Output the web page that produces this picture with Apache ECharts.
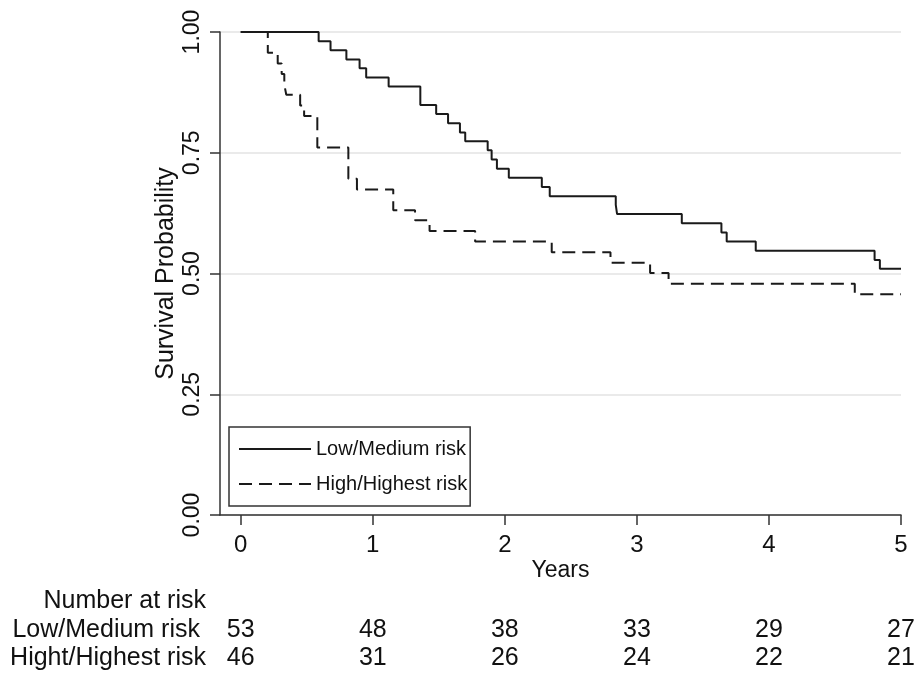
<!DOCTYPE html>
<html>
<head>
<meta charset="utf-8">
<script src="https://cdn.jsdelivr.net/npm/echarts@6/dist/echarts.min.js"></script>
<style>
html,body{margin:0;padding:0;background:#fff;}
#chart{width:916px;height:675px;}
</style>
</head>
<body>
<div id="chart"></div>
<script>
// ---- data ----
const seriesNames = ['Low/Medium risk', 'High/Highest risk'];
const riskRowLabels = ['Low/Medium risk', 'Hight/Highest risk'];
const riskHeader = 'Number at risk';
const yearTicks = [0, 1, 2, 3, 4, 5];

// Kaplan-Meier steps: time (years) and survival after the step
const timesLow = [0, 0.59, 0.68, 0.80, 0.90, 0.95, 1.12, 1.36, 1.48, 1.57, 1.66, 1.70, 1.87, 1.90, 1.94, 2.03, 2.28, 2.34, 2.84, 2.85, 3.34, 3.64, 3.68, 3.90, 4.80, 4.84, 5.0];
const survLow  = [1, 0.981, 0.962, 0.943, 0.925, 0.906, 0.887, 0.849, 0.830, 0.811, 0.792, 0.774, 0.755, 0.736, 0.717, 0.698, 0.679, 0.660, 0.642, 0.623, 0.604, 0.585, 0.566, 0.547, 0.528, 0.510, 0.510];

const timesHigh = [0, 0.205, 0.28, 0.31, 0.33, 0.345, 0.45, 0.48, 0.58, 0.815, 0.88, 1.155, 1.32, 1.43, 1.775, 2.355, 2.80, 3.10, 3.24, 4.65, 5.0];
const survHigh  = [1, 0.957, 0.935, 0.913, 0.891, 0.870, 0.848, 0.826, 0.761, 0.696, 0.674, 0.631, 0.610, 0.588, 0.566, 0.544, 0.522, 0.501, 0.479, 0.457, 0.457];

const atRiskLow  = [53, 48, 38, 33, 29, 27];
const atRiskHigh = [46, 31, 26, 24, 22, 21];

// ---- chart ----
const FONT = '"Liberation Sans", Arial, sans-serif';
const TXT = '#111';
const X_MIN = -0.157, X_MAX = 5;
const zip = (a, b) => a.map((v, i) => [v, b[i]]);

const chart = echarts.init(document.getElementById('chart'), null, {renderer: 'canvas'});

function riskAxis(offset, name, gap, values) {
  return {
    type: 'value', gridIndex: 0, position: 'bottom', offset: offset,
    min: X_MIN, max: X_MAX,
    name: name, nameLocation: 'start', nameGap: gap, nameMoveOverlap: false,
    nameTextStyle: {fontFamily: FONT, fontSize: 25, color: TXT, verticalAlign: 'middle', align: 'right'},
    axisLine: {show: false, onZero: false}, axisTick: {show: false}, splitLine: {show: false},
    axisLabel: {
      show: true, customValues: yearTicks, margin: 0, verticalAlign: 'middle',
      fontFamily: FONT, fontSize: 25, color: TXT,
      formatter: v => {
        if (!values) return '';
        const i = yearTicks.indexOf(Math.round(v));
        return i >= 0 ? String(values[i]) : '';
      }
    }
  };
}

const option = {
  animation: false,
  backgroundColor: '#fff',
  grid: {left: 220, right: 15, top: 32, bottom: 160, containLabel: false, outerBoundsMode: 'none'},
  legend: {
    orient: 'vertical', left: 229, top: 427,
    data: seriesNames,
    itemWidth: 72, itemHeight: 14, itemGap: 15,
    padding: [12, 3, 12, 9],
    borderColor: '#333', borderWidth: 1.5, borderRadius: 0,
    itemStyle: {opacity: 0},
    textStyle: {fontFamily: FONT, fontSize: 20, color: TXT},
    selectedMode: false
  },
  xAxis: [
    {
      type: 'value', min: X_MIN, max: X_MAX,
      name: 'Years', nameLocation: 'middle', nameGap: 56, nameMoveOverlap: false,
      nameTextStyle: {fontFamily: FONT, fontSize: 23, color: TXT, verticalAlign: 'middle'},
      axisLine: {show: true, onZero: false, lineStyle: {color: '#333', width: 1.5}},
      axisTick: {show: true, customValues: yearTicks, length: 10, lineStyle: {color: '#333', width: 1.5}},
      axisLabel: {customValues: yearTicks, margin: 30, verticalAlign: 'middle', fontFamily: FONT, fontSize: 24, color: TXT,
                  formatter: v => String(Math.round(v))},
      splitLine: {show: false}
    },
    riskAxis(86, riskHeader, 14, null),
    riskAxis(115, riskRowLabels[0], 20, atRiskLow),
    riskAxis(143, riskRowLabels[1], 14, atRiskHigh)
  ],
  yAxis: {
    type: 'value', min: 0, max: 1, interval: 0.25,
    name: 'Survival Probability', nameLocation: 'middle', nameGap: 54, nameMoveOverlap: false,
    nameTextStyle: {fontFamily: FONT, fontSize: 25, color: TXT, verticalAlign: 'middle'},
    axisLine: {show: true, onZero: false, lineStyle: {color: '#333', width: 1.5}},
    axisTick: {show: true, length: 10, lineStyle: {color: '#333', width: 1.5}},
    axisLabel: {rotate: 90, margin: 16, fontFamily: FONT, fontSize: 23, color: TXT,
                formatter: v => v.toFixed(2)},
    splitLine: {show: true, lineStyle: {color: '#e3e3e3', width: 1.5}}
  },
  series: [
    {
      name: seriesNames[0], type: 'line', step: 'end', symbol: 'none',
      data: zip(timesLow, survLow),
      lineStyle: {color: '#1a1a1a', width: 2, type: 'solid'},
      itemStyle: {color: '#1a1a1a'}
    },
    {
      name: seriesNames[1], type: 'line', step: 'end', symbol: 'none',
      data: zip(timesHigh, survHigh),
      lineStyle: {color: '#1a1a1a', width: 2, type: [13, 7]},
      itemStyle: {color: '#1a1a1a'}
    }
  ]
};
chart.setOption(option);
</script>
</body>
</html>
